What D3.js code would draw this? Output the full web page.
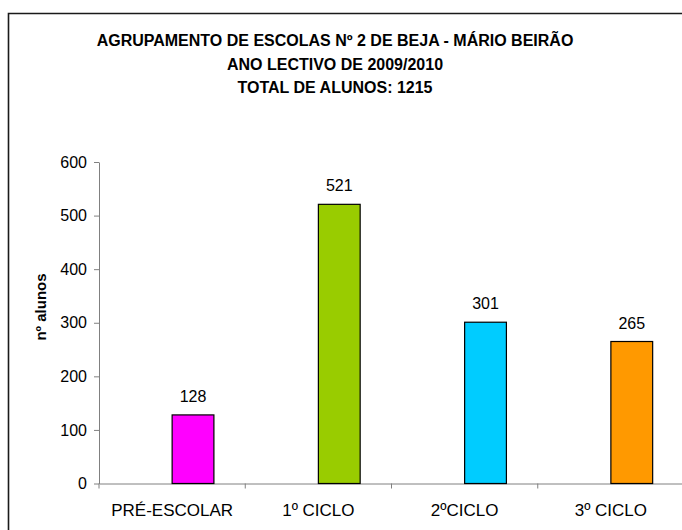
<!DOCTYPE html>
<html>
<head>
<meta charset="utf-8">
<script src="https://cdn.jsdelivr.net/npm/d3@7"></script>
<style>
  html, body { margin: 0; padding: 0; background: #fff; overflow: hidden; }
  svg { display: block; font-family: "Liberation Sans", Arial, sans-serif; }
  .axis path, .axis line { stroke: #808080; }
  .axis text { fill: #000; font-size: 16px; }
</style>
</head>
<body>
<div id="chart"></div>
<script>
// Chart data
const titleLines = [
    'AGRUPAMENTO DE ESCOLAS Nº 2 DE BEJA - MÁRIO BEIRÃO',
    'ANO LECTIVO DE 2009/2010',
    'TOTAL DE ALUNOS: 1215'
];
const categories = ['PRÉ-ESCOLAR', '1º CICLO', '2ºCICLO', '3º CICLO'];
const values = [128, 521, 301, 265];
const barColors = ['#ff00ff', '#99cc00', '#00ccff', '#ff9900'];
const yTicks = [0, 100, 200, 300, 400, 500, 600];
const yLabel = 'nº alunos';

const W = 682, H = 530;
const plot = {left: 99, right: 684, top: 162, bottom: 483.5};

const svg = d3.select('#chart')
    .append('svg')
    .attr('width', W)
    .attr('height', H);

// Outer chart border: only the left and top edges fall inside the picture
svg.append('path')
    .attr('d', `M8.5,${H + 5}V13.5H${W + 5}`)
    .attr('fill', 'none')
    .attr('stroke', '#1a1a1a')
    .attr('stroke-width', 1.6);

// Title
svg.append('text')
    .attr('x', 335)
    .attr('y', 46)
    .attr('text-anchor', 'middle')
    .style('font-weight', 'bold')
    .style('font-size', '16px')
    .selectAll('tspan')
    .data(titleLines)
    .enter().append('tspan')
    .attr('x', 335)
    .attr('dy', (d, i) => i === 0 ? 0 : 23.5)
    .text(d => d);

// Scales
const x = d3.scaleBand()
    .domain(categories)
    .range([plot.left, plot.right])
    .paddingInner(0)
    .paddingOuter(0);

const y = d3.scaleLinear()
    .domain([0, 600])
    .range([plot.bottom, plot.top]);

// Y axis
svg.append('g')
    .attr('class', 'axis')
    .attr('transform', `translate(${plot.left},0)`)
    .call(d3.axisLeft(y).tickValues(yTicks).tickSize(5).tickPadding(7).tickSizeOuter(0));

// X axis with category labels
const xAxis = svg.append('g')
    .attr('class', 'axis')
    .attr('transform', `translate(0,${plot.bottom})`)
    .call(d3.axisBottom(x).tickSize(0).tickSizeOuter(0));

xAxis.selectAll('.tick text')
    .attr('y', 32.5)
    .attr('dy', 0)
    .style('font-size', '17px');

// Ticks between categories
const boundaries = categories.map(c => x(c));
xAxis.selectAll('.bound')
    .data(boundaries)
    .enter().append('line')
    .attr('class', 'bound')
    .attr('x1', d => d)
    .attr('x2', d => d)
    .attr('y1', 0)
    .attr('y2', 5);

// Axis label
svg.append('text')
    .attr('transform', `translate(46,307) rotate(-90)`)
    .attr('text-anchor', 'middle')
    .style('font-weight', 'bold')
    .style('font-size', '15px')
    .text(yLabel);

// Bars (second slot of a two-slot group, gap 150%)
const barW = x.bandwidth() / 3.5;

svg.selectAll('.bar')
    .data(values)
    .enter().append('rect')
    .attr('class', 'bar')
    .attr('x', (d, i) => x(categories[i]) + x.bandwidth() / 2)
    .attr('y', d => y(d))
    .attr('width', barW)
    .attr('height', d => y(0) - y(d))
    .attr('fill', (d, i) => barColors[i])
    .attr('stroke', '#000')
    .attr('stroke-width', 1.2);

// Value labels
svg.selectAll('.val')
    .data(values)
    .enter().append('text')
    .attr('class', 'val')
    .attr('x', (d, i) => x(categories[i]) + x.bandwidth() / 2 + barW / 2)
    .attr('y', d => y(d) - 13)
    .attr('text-anchor', 'middle')
    .style('font-size', '16px')
    .text(d => d);
</script>
</body>
</html>
